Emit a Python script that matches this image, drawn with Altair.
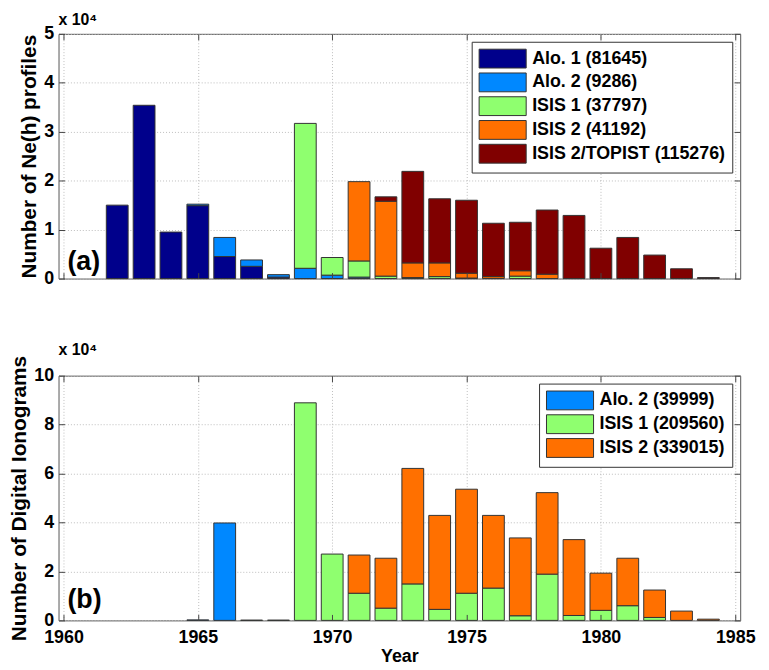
import altair as alt
import pandas as pd

# ---------------- data: panel (a) ----------------
years_a = list(range(1962, 1985))
alo1_a = [15000, 35400, 9500, 14900, 4500, 2500, 300, 0, 0, 0, 0, 0, 0, 0, 0, 0, 0, 0, 0, 0, 0, 0, 0]
alo2_a = [0, 0, 0, 300, 3900, 1300, 500, 2100, 700, 300, 0, 0, 0, 0, 0, 0, 0, 0, 0, 0, 0, 0, 0]
isis1_a = [0, 0, 0, 0, 0, 0, 0, 29600, 3600, 3300, 500, 200, 400, 100, 0, 500, 0, 0, 0, 0, 0, 0, 0]
isis2_a = [0, 0, 0, 0, 0, 0, 0, 0, 0, 16200, 15300, 3000, 2800, 1000, 400, 1100, 900, 0, 0, 0, 0, 0, 0]
topist_a = [0, 0, 0, 0, 0, 0, 0, 0, 0, 0, 900, 18700, 13100, 14900, 10900, 9900, 13100, 12900, 6200, 8400, 4800, 2000, 200]
names_a = ["Alo. 1 (81645)", "Alo. 2 (9286)", "ISIS 1 (37797)", "ISIS 2 (41192)", "ISIS 2/TOPIST (115276)"]
colors_a = ["#00008B", "#0088FF", "#8FFF6F", "#FF7000", "#800000"]

# ---------------- data: panel (b) ----------------
years_b = list(range(1965, 1985))
alo2_b = [200, 39800, 0, 0, 0, 0, 0, 0, 0, 0, 0, 0, 0, 0, 0, 0, 0, 0, 0, 0]
isis1_b = [0, 0, 100, 100, 88900, 27100, 11100, 5000, 14900, 4500, 11100, 13200, 1900, 18900, 2000, 4100, 6000, 1200, 0, 0]
isis2_b = [0, 0, 0, 0, 0, 0, 15600, 20400, 47200, 38400, 42500, 29700, 31800, 33300, 31000, 15200, 19400, 11200, 3800, 500]
names_b = ["Alo. 2 (39999)", "ISIS 1 (209560)", "ISIS 2 (339015)"]
colors_b = ["#0088FF", "#8FFF6F", "#FF7000"]

x_ticks = [1960, 1965, 1970, 1975, 1980, 1985]
y_ticks_a = [0, 10000, 20000, 30000, 40000, 50000]
y_ticks_b = [0, 20000, 40000, 60000, 80000, 100000]
panel_letters = ["(a)", "(b)"]

W, H = 688, 247
FONT = "Liberation Sans"
GRID = dict(grid=True, gridDash=[1, 2], gridColor="#bdbdbd")


def long_df(years, series, names):
    rows = []
    for k, (vals, nm) in enumerate(zip(series, names)):
        for y, v in zip(years, vals):
            if v > 0:
                rows.append({"year": y, "value": v, "series": nm, "k": k})
    return pd.DataFrame(rows)


def panel(df, names, colors, ymax, yvals, ytitle, letter, letter_y, bottom):
    xs = alt.Scale(domain=[1960, 1985], nice=False, zero=False)
    ys = alt.Scale(domain=[0, ymax], nice=False)
    if bottom:
        xaxis = alt.Axis(values=x_ticks, format="d", labels=True, ticks=False, domain=False,
                         labelPadding=8, labelFontSize=18, title="Year",
                         titleFontSize=18, titlePadding=2, **GRID)
    else:
        xaxis = alt.Axis(values=x_ticks, labels=False, ticks=False, domain=False,
                         title=None, **GRID)
    bars = alt.Chart(df).mark_bar(size=22, stroke="#333333", strokeWidth=1).encode(
        x=alt.X("year:Q", scale=xs, axis=xaxis),
        y=alt.Y("value:Q", scale=ys, stack="zero",
                axis=alt.Axis(values=yvals, labelExpr="datum.value / 10000", ticks=False,
                              domain=False, labelPadding=5, labelFontSize=18,
                              title=ytitle, titleFontSize=21, titlePadding=4, **GRID)),
        color=alt.Color("series:N", scale=alt.Scale(domain=names, range=colors),
                        legend=alt.Legend(title=None, orient="top-right", offset=8)),
        order=alt.Order("k:Q", sort="ascending"),
    )
    tick_style = dict(labels=False, domain=False, grid=False, tickSize=6,
                      tickColor="#444", title=None, zindex=1)
    ticks1 = alt.Chart(df).mark_point(opacity=0).encode(
        x=alt.X("year:Q", scale=xs,
                axis=alt.Axis(orient="bottom", offset=-H, values=x_ticks, **tick_style)),
        y=alt.Y("value:Q", scale=ys,
                axis=alt.Axis(orient="left", offset=-W, values=yvals, **tick_style)),
    )
    ticks2 = alt.Chart(df).mark_point(opacity=0).encode(
        x=alt.X("year:Q", scale=xs,
                axis=alt.Axis(orient="top", offset=-H, values=x_ticks, **tick_style)),
        y=alt.Y("value:Q", scale=ys,
                axis=alt.Axis(orient="right", offset=-W, values=yvals, **tick_style)),
    )
    label = alt.Chart(pd.DataFrame({"t": [letter]})).mark_text(
        align="left", baseline="alphabetic", fontSize=27, fontWeight="bold", font=FONT,
        color="black"
    ).encode(text="t:N", x=alt.value(9), y=alt.value(letter_y))
    return alt.layer(bars, ticks1, ticks2, label).resolve_axis(
        x="independent", y="independent"
    ).properties(
        width=W, height=H,
        title=alt.TitleParams("x 10⁴", anchor="start", frame="group", fontSize=16,
                              fontWeight="bold", font=FONT, color="black", offset=-3),
    )


df_a = long_df(years_a, [alo1_a, alo2_a, isis1_a, isis2_a, topist_a], names_a)
df_b = long_df(years_b, [alo2_b, isis1_b, isis2_b], names_b)

top = panel(df_a, names_a, colors_a, 50000, y_ticks_a, "Number of Ne(h) profiles",
            panel_letters[0], H - 9, False)
bot = panel(df_b, names_b, colors_b, 100000, y_ticks_b, "Number of Digital Ionograms",
            panel_letters[1], H - 13, True)

chart = alt.vconcat(top, bot, spacing=53).resolve_scale(
    color="independent", y="independent"
).resolve_legend(color="independent").properties(
    padding={"left": 0, "top": 0, "right": 5, "bottom": 0}
).configure_view(
    stroke="#555555", strokeWidth=1
).configure_axis(
    labelFont=FONT, titleFont=FONT, labelFontWeight="bold", titleFontWeight="bold",
    labelColor="black", titleColor="black"
).configure_legend(
    strokeColor="#333333", fillColor="white", padding=7, cornerRadius=0,
    labelFont=FONT, labelFontSize=18, labelFontWeight="bold", labelColor="black",
    labelLimit=320, labelOffset=34, symbolType="M-1,-1L4,-1L4,1L-1,1Z", symbolSize=361,
    symbolStrokeColor="#333333", symbolStrokeWidth=1, symbolOpacity=1, rowPadding=0
)

chart.save("out.html", embed_options={"renderer": "svg", "actions": False})
